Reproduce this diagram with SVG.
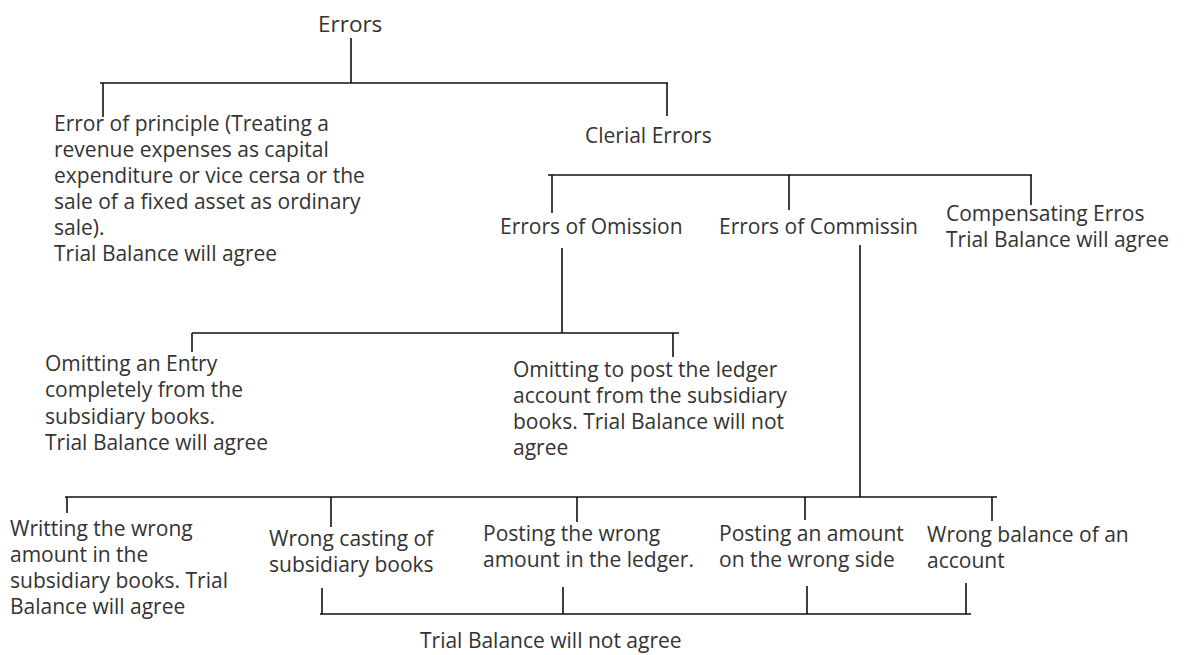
<svg xmlns="http://www.w3.org/2000/svg" width="1187" height="655" viewBox="0 0 1187 655">
<style>
text{font-family:"Open Sans","Noto Sans",sans-serif;font-size:21px;fill:#333}
.t{font-size:22.5px}
.c line{stroke:#111;stroke-width:1.6;fill:none}
</style>
<rect width="1187" height="655" fill="#fff"/>
<g class="c" id="connectors">
<line x1="351" y1="38" x2="351" y2="83"/>
<line x1="100" y1="83" x2="668" y2="83"/>
<line x1="103" y1="83" x2="103" y2="117"/>
<line x1="667" y1="83" x2="667" y2="116"/>
<line x1="548" y1="175" x2="1032" y2="175"/>
<line x1="552" y1="175" x2="552" y2="213"/>
<line x1="789" y1="175" x2="789" y2="210"/>
<line x1="1031" y1="175" x2="1031" y2="205"/>
<line x1="562" y1="248" x2="562" y2="333"/>
<line x1="192" y1="333" x2="679" y2="333"/>
<line x1="192" y1="333" x2="192" y2="352"/>
<line x1="673" y1="333" x2="673" y2="357"/>
<line x1="860" y1="245" x2="860" y2="497"/>
<line x1="65" y1="497" x2="997" y2="497"/>
<line x1="67" y1="497" x2="67" y2="513"/>
<line x1="331" y1="497" x2="331" y2="527"/>
<line x1="577" y1="497" x2="577" y2="522"/>
<line x1="805" y1="497" x2="805" y2="520"/>
<line x1="992" y1="497" x2="992" y2="521"/>
<line x1="322" y1="588" x2="322" y2="614"/>
<line x1="563" y1="587" x2="563" y2="614"/>
<line x1="807" y1="586" x2="807" y2="614"/>
<line x1="966" y1="583" x2="966" y2="614"/>
<line x1="320" y1="614" x2="971" y2="614"/>
</g>
<g id="errors"><text class="t" x="318" y="32">Errors</text></g>
<g id="principle"><text x="54" y="131">Error of principle (Treating a</text><text x="54" y="157">revenue expenses as capital</text><text x="54" y="183">expenditure or vice cersa or the</text><text x="54" y="209">sale of a fixed asset as ordinary</text><text x="54" y="235">sale).</text><text x="54" y="261">Trial Balance will agree</text></g>
<g id="clerial"><text x="585" y="143">Clerial Errors</text></g>
<g id="omission"><text x="500" y="234">Errors of Omission</text></g>
<g id="commission"><text x="719" y="234">Errors of Commissin</text></g>
<g id="compensating"><text x="946" y="221">Compensating Erros</text><text x="946" y="247">Trial Balance will agree</text></g>
<g id="omit-entry"><text x="45" y="371">Omitting an Entry</text><text x="45" y="397">completely from the</text><text x="45" y="424">subsidiary books.</text><text x="45" y="450">Trial Balance will agree</text></g>
<g id="omit-post"><text x="513" y="377">Omitting to post the ledger</text><text x="513" y="403">account from the subsidiary</text><text x="513" y="429">books. Trial Balance will not</text><text x="513" y="455">agree</text></g>
<g id="writing"><text x="10" y="536">Writting the wrong</text><text x="10" y="562">amount in the</text><text x="10" y="588">subsidiary books. Trial</text><text x="10" y="614">Balance will agree</text></g>
<g id="casting"><text x="269" y="546">Wrong casting of</text><text x="269" y="572">subsidiary books</text></g>
<g id="posting-wrong"><text x="483" y="541">Posting the wrong</text><text x="483" y="567">amount in the ledger.</text></g>
<g id="posting-side"><text x="719" y="541">Posting an amount</text><text x="719" y="567">on the wrong side</text></g>
<g id="balance"><text x="927" y="542">Wrong balance of an</text><text x="927" y="568">account</text></g>
<g id="not-agree"><text x="420" y="648">Trial Balance will not agree</text></g>
</svg>
